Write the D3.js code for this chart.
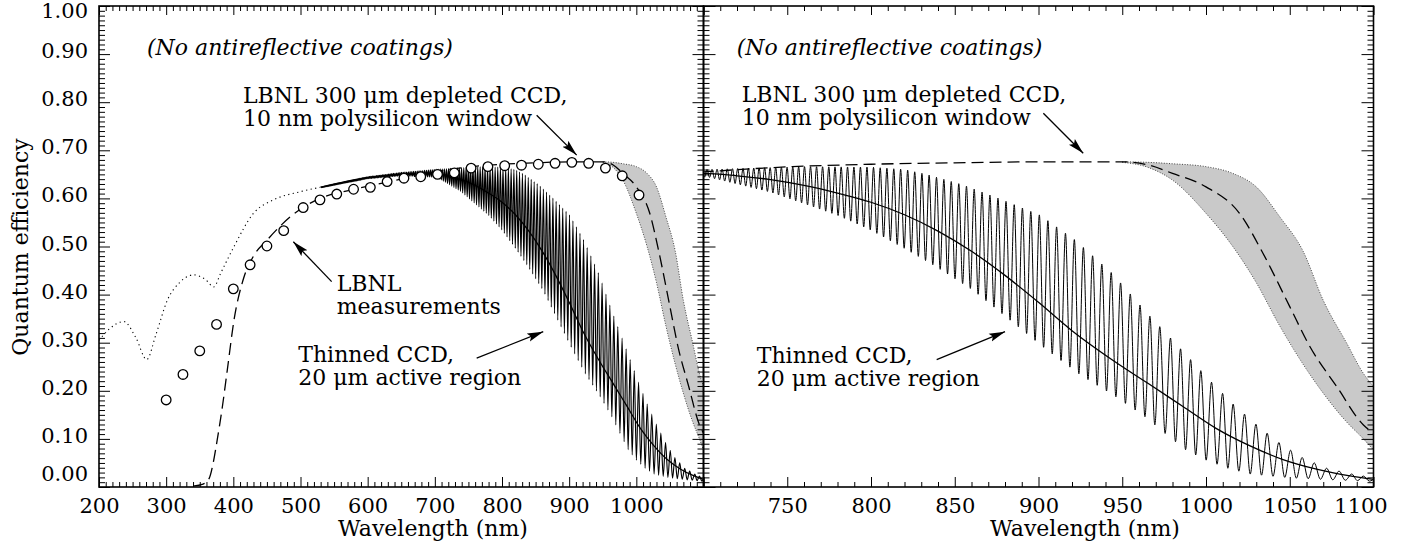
<!DOCTYPE html>
<html><head><meta charset="utf-8">
<script src="https://cdn.jsdelivr.net/npm/d3@7"></script>
<style>
body{margin:0;background:#fff}
svg{display:block}
svg text{font-family:"DejaVu Serif","Liberation Serif","Noto Serif",serif !important;}
</style>
</head><body>
<svg id="c" width="1419" height="550"></svg>
<script>
// ---------------- DATA ----------------
const yTickValues = [0,0.1,0.2,0.3,0.4,0.5,0.6,0.7,0.8,0.9,1.0];
const yTickLabels = ["0.00","0.10","0.20","0.30","0.40","0.50","0.60","0.70","0.80","0.90","1.00"];
const xTicksLeft = [200,300,400,500,600,700,800,900,1000,1100];
const xTickLabelsLeft = ["200","300","400","500","600","700","800","900","1000",""];
const xTicksRight = [700,750,800,850,900,950,1000,1050,1100];
const xTickLabelsRight = ["","750","800","850","900","950","1000","1050","1100"];

// LBNL measurements (open circles)
const measWl = [300,325,350,375,400,425,450,475,504,529,554,579,604,629,654,679,704,729,754,779,804,829,854,879,904,929,954,979,1004];
const measQE = [0.181,0.234,0.283,0.338,0.412,0.462,0.501,0.533,0.581,0.597,0.609,0.619,0.623,0.635,0.642,0.645,0.650,0.653,0.663,0.666,0.668,0.669,0.671,0.673,0.675,0.673,0.663,0.647,0.607];

// Thinned CCD, short wavelengths (dotted)
const thinUvWl = [200,215,237,255,271,285,302,320,341,358,371,381,401,430,460,500,529];
const thinUvQE = [0.305,0.328,0.344,0.310,0.265,0.318,0.389,0.425,0.441,0.432,0.416,0.444,0.500,0.569,0.597,0.614,0.623];

// Thinned CCD, fringe-averaged (solid)
const thinMeanWl = [530,560,600,650,700,720,740,760,780,800,820,840,860,880,900,920,945,966,986,1006,1026,1046,1066,1086,1100];
const thinMeanQE = [0.623,0.633,0.643,0.650,0.652,0.647,0.639,0.627,0.611,0.592,0.566,0.532,0.490,0.440,0.384,0.325,0.262,0.214,0.168,0.122,0.086,0.057,0.037,0.023,0.016];

// Thinned CCD fringes: maxima envelope, minima envelope, fringe-peak wavelengths
const fringeTopWl = [530,600,650,700,760,800,820,833,855,877,901,922,944,966,979,991,1003,1016,1030,1044,1057,1072,1087,1100];
const fringeTopQE = [0.624,0.645,0.654,0.660,0.666,0.665,0.660,0.650,0.628,0.599,0.565,0.513,0.444,0.357,0.309,0.264,0.219,0.173,0.130,0.091,0.062,0.039,0.027,0.019];
const fringeBotWl = [530,600,650,703,720,740,760,780,800,820,837,861,883,905,925,946,964,975,988,1000,1013,1026,1050,1075,1100];
const fringeBotQE = [0.622,0.641,0.647,0.644,0.630,0.613,0.589,0.565,0.534,0.496,0.462,0.409,0.347,0.285,0.233,0.188,0.145,0.113,0.077,0.056,0.039,0.027,0.019,0.015,0.012];
const fringePeakWl = [530.9,532.4,534.0,535.6,537.2,538.8,540.4,542.0,543.6,545.2,546.8,548.5,550.2,551.9,553.6,555.3,557.0,558.7,560.4,562.2,564.0,565.8,567.6,569.4,571.2,573.0,574.9,576.8,578.7,580.6,582.5,584.4,586.4,588.4,590.4,592.4,594.4,596.4,598.4,600.5,602.6,604.7,606.8,608.9,611.0,613.2,615.4,617.6,619.8,622.0,624.3,626.6,628.9,631.2,633.5,635.9,638.3,640.7,643.1,645.5,648.0,650.5,653.0,655.5,658.0,660.6,663.2,665.8,668.4,671.1,673.8,676.5,679.2,682.0,684.8,687.6,690.4,693.3,696.2,699.1,702.1,705.1,708.1,711.1,714.2,717.3,720.4,723.6,726.8,730.0,733.2,736.5,739.8,743.1,746.5,749.9,753.3,756.8,760.3,763.9,767.5,771.1,774.8,778.5,782.2,786.0,789.8,793.7,797.6,801.5,805.5,809.5,813.6,817.7,821.9,826.1,830.4,834.7,839.1,843.5,847.9,852.4,857.0,861.6,866.3,871.0,875.8,880.6,885.5,890.4,895.4,900.5,905.6,910.8,916.1,921.4,926.8,932.3,937.8,943.4,949.0,954.8,960.6,966.5,972.4,978.8,984.8,990.8,996.9,1003.3,1009.9,1016.2,1023.0,1029.8,1036.5,1043.5,1050.5,1057.4,1064.6,1072.0,1079.4,1087.0,1093.9,1101.2];

// LBNL 300 um depleted CCD (dashed) and its uncertainty band (grey)
const depletedWl = [340,355,364,370,376,384,391,401,416,430,450,485,529,574,650,700,753,800,850,900,950,965,980,1000,1020,1034,1050,1062,1078,1094,1100];
const depletedQE = [0.002,0.006,0.018,0.050,0.098,0.170,0.243,0.347,0.437,0.480,0.513,0.562,0.600,0.617,0.640,0.655,0.666,0.671,0.674,0.676,0.676,0.670,0.652,0.624,0.569,0.486,0.375,0.292,0.209,0.129,0.112];
const bandWl = [950,965,980,1000,1016,1030,1044,1058,1070,1084,1094,1100];
const bandUpperQE = [0.676,0.675,0.672,0.666,0.652,0.624,0.562,0.490,0.388,0.299,0.236,0.209];
const bandLowerQE = [0.675,0.665,0.638,0.569,0.500,0.425,0.335,0.255,0.195,0.135,0.100,0.077];

// Annotations (data coordinates)
const leftNotes = [
  {t:"(No antireflective coatings)", wl:271.5, qe:0.898, it:true},
  {t:"LBNL 300 \u03bcm depleted CCD,", wl:414.4, qe:0.798},
  {t:"10 nm polysilicon window", wl:414.4, qe:0.750},
  {t:"LBNL", wl:553.9, qe:0.4075},
  {t:"measurements", wl:553.9, qe:0.3597},
  {t:"Thinned CCD,", wl:496.7, qe:0.260},
  {t:"20 \u03bcm active region", wl:496.7, qe:0.212}
];
const rightNotes = [
  {t:"(No antireflective coatings)", wl:719.8, qe:0.898, it:true},
  {t:"LBNL 300 \u03bcm depleted CCD,", wl:722.8, qe:0.800},
  {t:"10 nm polysilicon window", wl:722.8, qe:0.752},
  {t:"Thinned CCD,", wl:731.8, qe:0.258},
  {t:"20 \u03bcm active region", wl:731.8, qe:0.209}
];
const leftArrows = [
  {x0:851.6, y0:0.773, x1:911.2, y1:0.690},
  {x0:546.4, y0:0.427, x1:489.3, y1:0.510},
  {x0:762.3, y0:0.268, x1:861.4, y1:0.323}
];
const rightArrows = [
  {x0:902.9, y0:0.777, x1:926.7, y1:0.694},
  {x0:839.2, y0:0.265, x1:880.0, y1:0.323}
];

// ---------------- DRAWING ----------------
const FONT = "DejaVu Serif, Liberation Serif, serif";
const svg = d3.select("#c");
const y = d3.scaleLinear().domain([0,1]).range([487,6]);
const xL = d3.scaleLinear().domain([200,1100]).range([99,703.5]);
const xR = d3.scaleLinear().domain([700,1100]).range([703.5,1373.5]);

const defs = svg.append("defs");
defs.append("clipPath").attr("id","clipL").append("rect")
  .attr("x",xL(200)).attr("y",y(1)).attr("width",xL(1100)-xL(200)).attr("height",y(0)-y(1));
defs.append("clipPath").attr("id","clipR").append("rect")
  .attr("x",xR(700)).attr("y",y(1)).attr("width",xR(1100)-xR(700)).attr("height",y(0)-y(1));
defs.append("marker").attr("id","ah").attr("viewBox","0 0 16 10").attr("refX",16).attr("refY",5)
  .attr("markerWidth",16).attr("markerHeight",10).attr("markerUnits","userSpaceOnUse").attr("orient","auto")
  .append("path").attr("d","M0,0.8 L16,5 L0,9.2 L3,5 Z").attr("fill","#000");

const topEnv = d3.scaleLinear().domain(fringeTopWl).range(fringeTopQE).clamp(true);
const botEnv = d3.scaleLinear().domain(fringeBotWl).range(fringeBotQE).clamp(true);
// fringe path: peaks on the maxima envelope, minima half-way between peaks
const fringePts = [[530, thinMeanQE[0]]];
fringePeakWl.forEach((w,i)=>{
  fringePts.push([w, topEnv(w)]);
  if(i < fringePeakWl.length-1){
    const m = (w + fringePeakWl[i+1])/2;
    fringePts.push([m, botEnv(m)]);
  }
});

function panel(x, clipId, notes, arrows, fringeWidth){
  const g = svg.append("g").attr("clip-path",`url(#${clipId})`);
  // grey band
  const band = bandWl.map((w,i)=>[w,bandUpperQE[i],bandLowerQE[i]]);
  g.append("path").datum(band)
    .attr("d", d3.area().x(d=>x(d[0])).y0(d=>y(d[2])).y1(d=>y(d[1])).curve(d3.curveMonotoneX))
    .attr("fill","#c9c9c9").attr("stroke","none");
  [1,2].forEach(k=>{
    g.append("path").datum(band)
      .attr("d", d3.line().x(d=>x(d[0])).y(d=>y(d[k])).curve(d3.curveMonotoneX))
      .attr("fill","none").attr("stroke","#333").attr("stroke-width",0.9).attr("stroke-dasharray","1,1.6");
  });
  // fringes
  g.append("path").datum(fringePts)
    .attr("d", d3.line().x(d=>x(d[0])).y(d=>y(d[1])).curve(d3.curveMonotoneX))
    .attr("fill","none").attr("stroke","#000").attr("stroke-width",fringeWidth);
  // mean thinned
  g.append("path").datum(thinMeanWl.map((w,i)=>[w,thinMeanQE[i]]))
    .attr("d", d3.line().x(d=>x(d[0])).y(d=>y(d[1])).curve(d3.curveMonotoneX))
    .attr("fill","none").attr("stroke","#000").attr("stroke-width",1.3);
  // dotted uv
  g.append("path").datum(thinUvWl.map((w,i)=>[w,thinUvQE[i]]))
    .attr("d", d3.line().x(d=>x(d[0])).y(d=>y(d[1])).curve(d3.curveMonotoneX))
    .attr("fill","none").attr("stroke","#000").attr("stroke-width",1.1).attr("stroke-dasharray","1.2,3.4");
  // dashed depleted
  g.append("path").datum(depletedWl.map((w,i)=>[w,depletedQE[i]]))
    .attr("d", d3.line().x(d=>x(d[0])).y(d=>y(d[1])).curve(d3.curveMonotoneX))
    .attr("fill","none").attr("stroke","#000").attr("stroke-width",1.3).attr("stroke-dasharray","12,6");
  // measurements
  if(clipId==="clipL"){
    g.selectAll("circle.m").data(measWl.map((w,i)=>[w,measQE[i]])).enter().append("circle")
      .attr("cx",d=>x(d[0])).attr("cy",d=>y(d[1])).attr("r",4.8)
      .attr("fill","#fff").attr("stroke","#000").attr("stroke-width",1.3);
  }
  // arrows
  svg.append("g").selectAll("line").data(arrows).enter().append("line")
    .attr("x1",d=>x(d.x0)).attr("y1",d=>y(d.y0)).attr("x2",d=>x(d.x1)).attr("y2",d=>y(d.y1))
    .attr("stroke","#000").attr("stroke-width",1.3).attr("marker-end","url(#ah)");
  // notes
  svg.append("g").selectAll("text").data(notes).enter().append("text")
    .attr("x",d=>x(d.wl)).attr("y",d=>y(d.qe))
    .attr("font-family",FONT).attr("font-size",22)
    .attr("font-style",d=>d.it?"italic":"normal").attr("fill","#000").text(d=>d.t);
}
panel(xL,"clipL",leftNotes,leftArrows,1.15);
panel(xR,"clipR",rightNotes,rightArrows,1.0);

// ---------------- AXES ----------------
function put(axis, tx, ty){
  const g = svg.append("g").attr("transform",`translate(${tx},${ty})`).call(axis);
  g.select(".domain").remove();
  g.attr("font-family",FONT).attr("font-size",21);
  g.selectAll("line").attr("stroke","#000").attr("stroke-width",1);
  g.selectAll("text").attr("fill","#000");
  return g;
}
const yMinor = d3.range(0,101).filter(i=>i%10!==0).map(i=>i/100);
const none = ()=>"";
// left panel
const gyl = put(d3.axisLeft(y).tickValues(yTickValues).tickSize(-11).tickPadding(11)
  .tickFormat((d,i)=>yTickLabels[i]), xL(200), 0);
gyl.selectAll("text").attr("dy","0.17em");
gyl.selectAll(".tick").filter(d=>d===0).select("text").attr("dy","-0.33em");
gyl.selectAll(".tick").filter(d=>d===1).select("text").attr("dy","0.55em");
put(d3.axisLeft(y).tickValues(yMinor).tickSize(-6).tickFormat(none), xL(200), 0);
put(d3.axisRight(y).tickValues(yTickValues).tickSize(-11).tickFormat(none), xL(1100), 0);
put(d3.axisRight(y).tickValues(yMinor).tickSize(-6).tickFormat(none), xL(1100), 0);
const xLMinor = d3.range(200,1101,10).filter(v=>v%100!==0);
put(d3.axisBottom(xL).tickValues(xTicksLeft).tickSize(-10).tickPadding(11)
  .tickFormat((d,i)=>xTickLabelsLeft[i]), 0, y(0));
put(d3.axisBottom(xL).tickValues(xLMinor).tickSize(-5).tickFormat(none), 0, y(0));
put(d3.axisTop(xL).tickValues(xTicksLeft).tickSize(-9).tickFormat(none), 0, y(1));
put(d3.axisTop(xL).tickValues(xLMinor).tickSize(-5).tickFormat(none), 0, y(1));
// right panel
put(d3.axisLeft(y).tickValues(yTickValues).tickSize(-12).tickFormat(none), xR(700), 0);
put(d3.axisLeft(y).tickValues(yMinor).tickSize(-6).tickFormat(none), xR(700), 0);
put(d3.axisRight(y).tickValues(yTickValues).tickSize(-12).tickFormat(none), xR(1100), 0);
put(d3.axisRight(y).tickValues(yMinor).tickSize(-6).tickFormat(none), xR(1100), 0);
const xRMinor = d3.range(700,1101,10).filter(v=>v%50!==0);
const gxr = put(d3.axisBottom(xR).tickValues(xTicksRight).tickSize(-10).tickPadding(11)
  .tickFormat((d,i)=>xTickLabelsRight[i]), 0, y(0));
gxr.selectAll(".tick").filter(d=>d===1100).select("text").attr("x",-13);
put(d3.axisBottom(xR).tickValues(xRMinor).tickSize(-5).tickFormat(none), 0, y(0));
put(d3.axisTop(xR).tickValues(xTicksRight).tickSize(-9).tickFormat(none), 0, y(1));
put(d3.axisTop(xR).tickValues(xRMinor).tickSize(-5).tickFormat(none), 0, y(1));

// frames
svg.append("rect").attr("x",xL(200)).attr("y",y(1)).attr("width",xL(1100)-xL(200)).attr("height",y(0)-y(1))
  .attr("fill","none").attr("stroke","#000").attr("stroke-width",1.6);
svg.append("rect").attr("x",xR(700)).attr("y",y(1)).attr("width",xR(1100)-xR(700)).attr("height",y(0)-y(1))
  .attr("fill","none").attr("stroke","#000").attr("stroke-width",1.6);

// axis titles
svg.append("text").attr("x",433).attr("y",536).attr("text-anchor","middle")
  .attr("font-family",FONT).attr("font-size",22).text("Wavelength (nm)");
svg.append("text").attr("x",1085).attr("y",536).attr("text-anchor","middle")
  .attr("font-family",FONT).attr("font-size",22).text("Wavelength (nm)");
svg.append("text").attr("transform","translate(28,247) rotate(-90)").attr("text-anchor","middle")
  .attr("font-family",FONT).attr("font-size",22).text("Quantum efficiency");
</script>
</body></html>
